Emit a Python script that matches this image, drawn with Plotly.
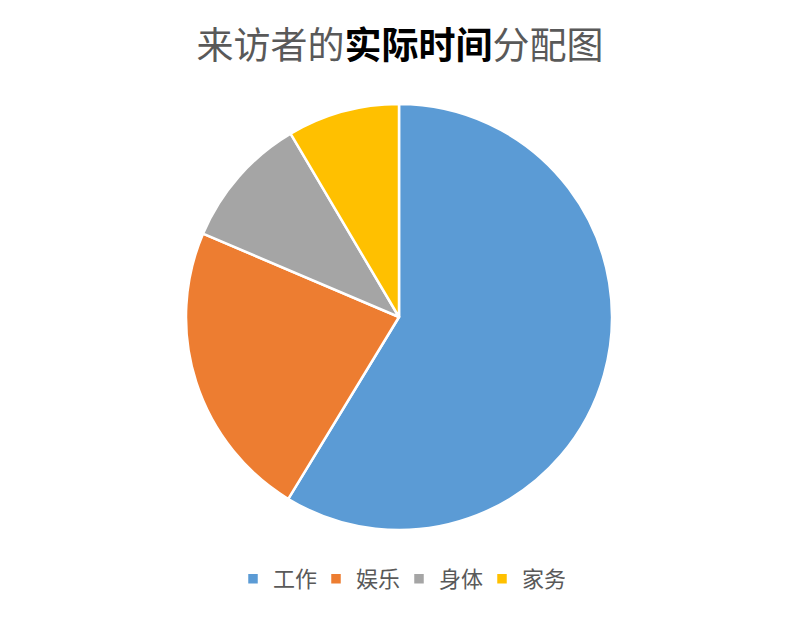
import plotly.graph_objects as go

# time shares (percent)
categories = ["工作", "娱乐", "身体", "家务"]
shares = [58.7, 22.7, 10.1, 8.5]
slice_colors = ["#5B9BD5", "#ED7D31", "#A5A5A5", "#FFC000"]

FONT = "Noto Sans CJK SC"

fig = go.Figure(
    go.Pie(
        labels=categories,
        values=shares,
        sort=False,
        direction="clockwise",
        rotation=0,
        textinfo="none",
        hoverinfo="label+percent",
        marker=dict(colors=slice_colors, line=dict(color="#FFFFFF", width=2.5)),
    )
)

fig.update_layout(
    width=800,
    height=620,
    paper_bgcolor="#FFFFFF",
    plot_bgcolor="#FFFFFF",
    margin=dict(l=0, r=18, t=96, b=98),
    font=dict(family=FONT, color="#595959"),
    title=dict(
        text="来访者的<b><span style='color:#000000'>实际时间</span></b>分配图",
        x=0.49,
        xanchor="center",
        y=1 - 38 / 620,
        yanchor="middle",
        font=dict(family=FONT, size=37, color="#595959"),
    ),
    legend=dict(
        orientation="h",
        x=0.5,
        xanchor="center",
        y=-0.115,
        yanchor="middle",
        font=dict(family=FONT, size=22, color="#595959"),
        itemwidth=30,
        entrywidth=38,
        entrywidthmode="pixels",
        traceorder="normal",
    ),
    showlegend=True,
)

fig.write_html("out.html")
